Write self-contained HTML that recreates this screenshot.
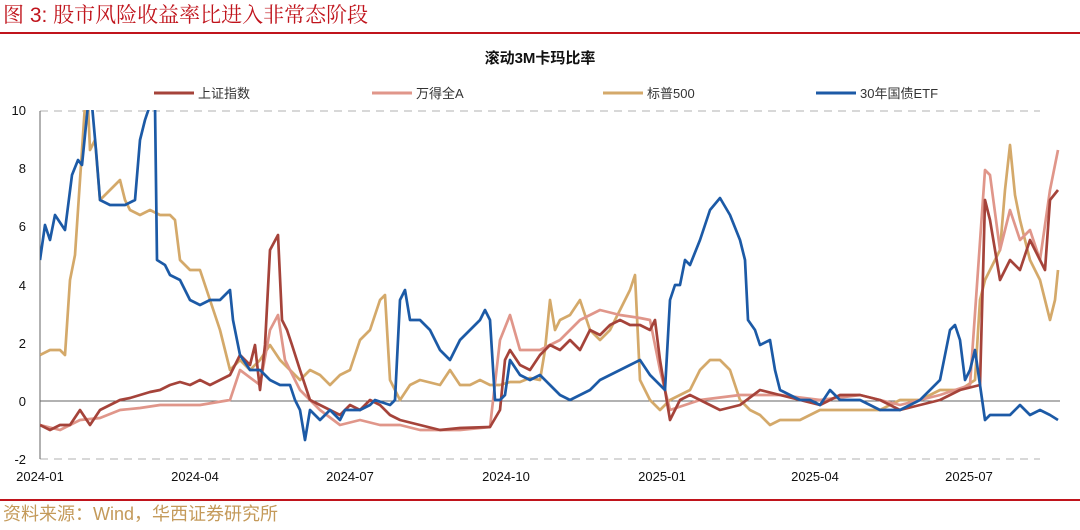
<!DOCTYPE html><html><head><meta charset="utf-8"><style>
body{margin:0;background:#fff;width:1080px;height:525px;overflow:hidden;font-family:"Liberation Sans","Noto Sans CJK SC",sans-serif}
</style></head><body>
<svg width="1080" height="525" xmlns="http://www.w3.org/2000/svg" font-family="Liberation Sans, Noto Sans CJK SC, sans-serif">
<text x="3" y="22" font-size="21" fill="#c0141c" font-family="Liberation Sans, Noto Serif CJK SC, serif">图 3:  股市风险收益率比进入非常态阶段</text>
<line x1="0" y1="33" x2="1080" y2="33" stroke="#c0141c" stroke-width="2"/>
<text x="540" y="63" font-size="15" font-weight="bold" text-anchor="middle" fill="#111">滚动3M卡玛比率</text>
<g font-size="13" fill="#333">
<line x1="154" y1="93" x2="194" y2="93" stroke="#a5433a" stroke-width="3"/><text x="198" y="98">上证指数</text>
<line x1="372" y1="93" x2="412" y2="93" stroke="#e0968a" stroke-width="3"/><text x="416" y="98">万得全A</text>
<line x1="603" y1="93" x2="643" y2="93" stroke="#d4a96a" stroke-width="3"/><text x="647" y="98">标普500</text>
<line x1="816" y1="93" x2="856" y2="93" stroke="#1c5aa6" stroke-width="3"/><text x="860" y="98">30年国债ETF</text>
</g>
<line x1="40" y1="111" x2="1040" y2="111" stroke="#ccc" stroke-dasharray="8,6" stroke-width="1.5"/>
<line x1="40" y1="459" x2="1040" y2="459" stroke="#ccc" stroke-dasharray="8,6" stroke-width="1.5"/>
<line x1="40" y1="401" x2="1060" y2="401" stroke="#666" stroke-width="1"/>
<line x1="40" y1="111" x2="40" y2="459" stroke="#666" stroke-width="1"/>
<g font-size="13" fill="#111" text-anchor="end">
<text x="26" y="115">10</text><text x="26" y="173">8</text><text x="26" y="231">6</text><text x="26" y="290">4</text><text x="26" y="348">2</text><text x="26" y="406">0</text><text x="26" y="464">-2</text>
</g>
<g font-size="13" fill="#111" text-anchor="middle">
<text x="40" y="481">2024-01</text><text x="195" y="481">2024-04</text><text x="350" y="481">2024-07</text><text x="506" y="481">2024-10</text><text x="662" y="481">2025-01</text><text x="815" y="481">2025-04</text><text x="969" y="481">2025-07</text>
</g>
<defs><clipPath id="c"><rect x="40" y="110" width="1030" height="360"/></clipPath></defs>
<g clip-path="url(#c)" fill="none" stroke-width="2.7" stroke-linejoin="round">
<polyline stroke="#d4a96a" points="40,355 50,350 60,350 65,355 70,280 75,255 80,180 85,105 88,105 90,150 95,140 100,200 110,190 120,180 125,200 130,210 140,215 150,210 160,215 170,215 175,220 180,260 190,270 200,270 210,300 220,330 230,370 240,360 250,370 260,360 270,345 280,360 290,370 300,380 310,370 320,375 330,385 340,375 350,370 360,340 370,330 380,300 385,295 390,380 400,400 410,385 420,380 440,385 450,370 460,385 470,385 480,380 490,385 500,385 510,382 520,382 530,378 540,380 545,350 550,300 555,330 560,320 570,315 580,300 590,330 600,340 610,330 620,310 630,290 635,275 640,380 650,400 660,410 670,400 680,395 690,390 700,370 710,360 720,360 730,370 740,400 750,410 760,415 770,425 780,420 800,420 820,410 840,410 860,410 880,410 900,400 920,400 940,390 960,390 975,380 980,300 985,280 990,270 995,260 1000,250 1005,190 1010,145 1015,195 1020,220 1030,260 1040,280 1050,320 1055,300 1058,270"/>
<polyline stroke="#e0968a" points="40,425 60,430 80,420 100,418 120,410 140,408 160,405 180,405 200,405 230,400 240,370 260,385 270,330 278,315 285,360 300,390 320,410 340,425 360,420 380,425 400,425 420,430 460,430 490,427 500,340 510,315 520,350 540,350 560,340 580,320 600,310 620,315 640,318 650,320 660,370 670,410 700,400 740,395 780,395 820,400 860,395 900,405 940,395 970,385 985,170 990,175 1000,250 1010,210 1020,240 1030,230 1040,260 1050,190 1058,150"/>
<polyline stroke="#a5433a" points="40,425 50,430 60,425 70,425 80,410 90,425 100,410 110,405 120,400 130,398 140,395 150,392 160,390 170,385 180,382 190,385 200,380 210,385 220,380 230,375 240,355 250,365 255,345 260,390 265,345 270,250 278,235 282,320 287,330 292,345 300,370 310,400 320,405 330,410 340,415 350,405 360,410 370,400 380,405 390,415 400,420 420,425 440,430 460,428 490,427 500,410 505,360 510,350 520,365 530,370 540,355 550,345 560,350 570,340 580,350 590,330 600,335 610,325 620,320 630,325 640,325 650,330 655,320 660,360 670,420 680,400 690,395 700,400 720,410 740,405 760,390 780,395 800,400 820,405 840,395 860,395 880,400 900,410 920,405 940,400 960,390 980,385 985,200 990,220 1000,280 1010,260 1020,270 1030,240 1040,260 1045,270 1050,200 1058,190"/>
<polyline stroke="#1c5aa6" points="40,260 45,225 50,240 55,215 65,230 72,175 78,160 82,165 88,105 92,105 96,150 100,200 110,205 125,205 135,200 140,140 145,120 150,105 155,105 157,260 165,265 170,275 180,280 190,300 200,305 210,300 220,300 230,290 233,320 240,355 250,370 260,370 270,380 280,385 290,385 295,400 300,410 305,440 310,410 320,420 330,410 340,420 345,410 360,410 370,405 375,400 390,405 395,400 400,300 405,290 410,320 420,320 430,330 440,350 450,360 460,340 470,330 480,320 485,310 490,320 495,400 500,400 505,395 510,360 520,375 530,380 540,375 550,385 560,395 570,400 580,395 590,390 600,380 610,375 620,370 630,365 640,360 650,375 660,385 665,390 670,300 675,285 680,285 685,260 690,265 700,240 710,210 720,198 730,215 740,240 745,260 748,320 755,330 760,345 770,340 775,370 780,390 790,395 800,400 810,400 820,405 830,390 840,400 860,400 880,410 900,410 920,400 940,380 950,330 955,325 960,340 965,380 970,370 975,350 980,385 985,420 990,415 1000,415 1010,415 1020,405 1030,415 1040,410 1050,415 1058,420"/>
</g>
<line x1="0" y1="500" x2="1080" y2="500" stroke="#c0141c" stroke-width="2"/>
<text x="3" y="520" font-size="18" fill="#c49a5a">资料来源：Wind，华西证券研究所</text>
</svg>
</body></html>
